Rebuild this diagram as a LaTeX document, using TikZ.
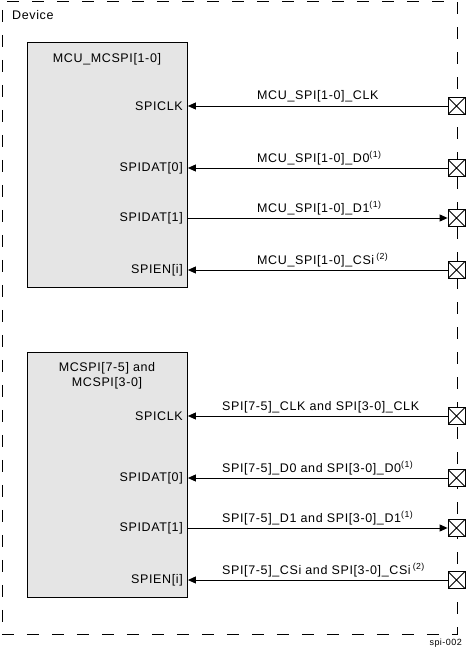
\documentclass[tikz,border=0pt]{standalone}
\usepackage{fontspec}
\setmainfont[LetterSpace=5]{Liberation Sans}
\usetikzlibrary{arrows.meta}
\begin{document}
\begin{tikzpicture}[x=1pt,y=-1pt,
  font=\fontsize{12.5}{14.5}\selectfont,
  device/.style={draw, line width=0.9pt, dash pattern=on 12pt off 13pt},
  block/.style={draw, line width=0.9pt, fill=black!10, minimum width=160pt, anchor=north west, inner sep=0pt},
  pin/.style={draw, line width=0.8pt, fill=white, minimum size=17pt, inner sep=0pt,
    path picture={\draw[line width=0.8pt] (path picture bounding box.south west) -- (path picture bounding box.north east)
      (path picture bounding box.north west) -- (path picture bounding box.south east);}},
  sig/.style={line width=0.9pt},
  tip/.style={-{Triangle[length=8pt,width=7pt]}},
  port/.style={anchor=east, inner sep=0pt},
  siglab/.style={anchor=base west, inner sep=0pt}
]
\useasboundingbox (0,0) rectangle (466,650);
\node[device, minimum width=455pt, minimum height=632pt, anchor=north west, inner sep=0pt] (dev) at (1.5,1.5) {};
\node[anchor=west, inner sep=0pt] (devlab) at (12,15) {Device};

% block 1
\node[block, minimum height=245pt] (b1) at (27,42) {};
\node[inner sep=0pt] (b1t) at (107,59) {MCU\_MCSPI[1-0]};
\node[port] (p1a) at (183,106) {SPICLK};
\node[port] (p1b) at (183,168) {SPIDAT[0]};
\node[port] (p1c) at (183,218) {SPIDAT[1]};
\node[port] (p1d) at (183,270) {SPIEN[i]};

% block 2
\node[block, minimum height=245pt] (b2) at (27,352) {};
\node[inner sep=0pt, align=center, font=\fontsize{12.5}{14.5}\selectfont] (b2t) at (107,376) {MCSPI[7-5] and\\MCSPI[3-0]};
\node[port] (p2a) at (183,416) {SPICLK};
\node[port] (p2b) at (183,478) {SPIDAT[0]};
\node[port] (p2c) at (183,528) {SPIDAT[1]};
\node[port] (p2d) at (183,580) {SPIEN[i]};

% pins
\foreach \n/\y in {q1a/106,q1b/168,q1c/218,q1d/270,q2a/416,q2b/478,q2c/528,q2d/580}{
  \node[pin] (\n) at (456.5,\y) {};
}

% connectors
\draw[sig,tip] (q1a.west) -- (b1.east |- q1a);
\draw[sig,tip] (q1b.west) -- (b1.east |- q1b);
\draw[sig,tip] (b1.east |- q1c) -- (q1c.west);
\draw[sig,tip] (q1d.west) -- (b1.east |- q1d);
\draw[sig,tip] (q2a.west) -- (b2.east |- q2a);
\draw[sig,tip] (q2b.west) -- (b2.east |- q2b);
\draw[sig,tip] (b2.east |- q2c) -- (q2c.west);
\draw[sig,tip] (q2d.west) -- (b2.east |- q2d);

% labels
\node[siglab] (l1a) at (257,100) {MCU\_SPI[1-0]\_CLK};
\node[siglab] (l1b) at (257,162) {MCU\_SPI[1-0]\_D0\textsuperscript{(1)}};
\node[siglab] (l1c) at (257,212) {MCU\_SPI[1-0]\_D1\textsuperscript{(1)}};
\node[siglab] (l1d) at (257,264) {MCU\_SPI[1-0]\_CSi\,\textsuperscript{(2)}};
\node[siglab] (l2a) at (222,410) {SPI[7-5]\_CLK and SPI[3-0]\_CLK};
\node[siglab] (l2b) at (222,472) {SPI[7-5]\_D0 and SPI[3-0]\_D0\textsuperscript{(1)}};
\node[siglab] (l2c) at (222,522) {SPI[7-5]\_D1 and SPI[3-0]\_D1\textsuperscript{(1)}};
\node[siglab] (l2d) at (222,574) {SPI[7-5]\_CSi and SPI[3-0]\_CSi\,\textsuperscript{(2)}};

\node[anchor=east, inner sep=0pt, font=\fontsize{9}{10}\selectfont] (fig) at (462,643) {spi-002};
\end{tikzpicture}
\end{document}
